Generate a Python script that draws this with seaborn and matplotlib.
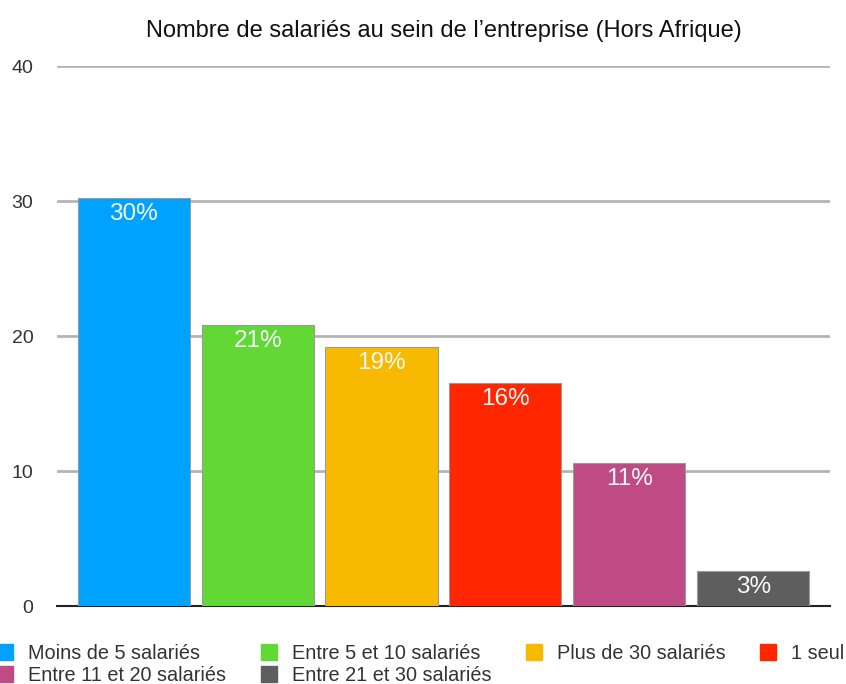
import matplotlib
matplotlib.use("Agg")
import matplotlib.pyplot as plt
from matplotlib.patches import Patch
import seaborn as sns

# Data
categories = ["Moins de 5 salariés", "Entre 5 et 10 salariés", "Plus de 30 salariés",
              "1 seul", "Entre 11 et 20 salariés", "Entre 21 et 30 salariés"]
values = [30.2, 20.8, 19.2, 16.5, 10.6, 2.6]
labels = ["30%", "21%", "19%", "16%", "11%", "3%"]
colors = ["#00A2FF", "#61D836", "#F8BA00", "#FF2600", "#C04A83", "#5E5E5E"]
title = "Nombre de salariés au sein de l’entreprise (Hors Afrique)"

sns.set_style("white")
plt.rcParams['font.family'] = ['Liberation Sans', 'DejaVu Sans']

fig = plt.figure(figsize=(8.46, 6.84), dpi=100)
ax = fig.add_axes([0.0674, 0.114, 0.9136, 0.7895])

sns.barplot(x=categories, y=values, hue=categories, palette=colors, saturation=1,
            width=0.905, edgecolor="#9a9a9a", linewidth=0.8,
            legend=False, ax=ax, zorder=3)

ax.set_ylim(0, 40)
ax.set_xlim(-0.62, 5.62)
ax.set_yticks([0, 10, 20, 30, 40])
ax.yaxis.grid(True, color="#b4b4b4", linewidth=2, zorder=0)
ax.set_axisbelow(True)
ax.set_xticks([])
ax.set_xlabel("")
ax.set_ylabel("")
sns.despine(ax=ax, left=True)
ax.spines['bottom'].set_color("#222222")
ax.spines['bottom'].set_linewidth(1.5)
ax.tick_params(axis='y', length=0, pad=17, labelsize=14, labelcolor="#333333")

# Percentage labels inside bars
for i, (v, lab) in enumerate(zip(values, labels)):
    ax.text(i, v - 0.35, lab, ha='center', va='top', color='#f8f8f8', fontsize=17.5, zorder=5)

ax.set_title(title, fontsize=17, color="#111111", pad=21)

# Legend (order arranged so rows read across)
order = [0, 4, 1, 5, 2, 3]
handles = [Patch(facecolor=colors[i], edgecolor=colors[i]) for i in order]
fig.legend(handles, [categories[i] for i in order], ncol=4, frameon=False,
           loc='upper left', bbox_to_anchor=(-0.003, 0.059), fontsize=14.3,
           borderpad=0, borderaxespad=0,
           handlelength=0.8, handleheight=0.85, handletextpad=0.75,
           columnspacing=1.75, labelspacing=0.15, labelcolor="#333333")

fig.savefig("out.png", dpi=100)
